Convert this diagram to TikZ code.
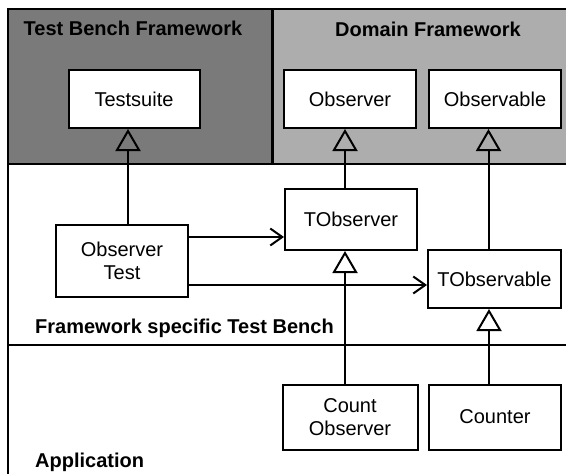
\documentclass[tikz,border=0pt]{standalone}
\usepackage{fontspec}
\setmainfont{Liberation Sans}
\usetikzlibrary{arrows.meta}
\begin{document}
\begin{tikzpicture}[x=1pt,y=-1pt,
  cls/.style={draw, line width=2pt, fill=white, font=\fontsize{20}{23}\selectfont, align=center, inner sep=0pt},
  lbl/.style={font=\bfseries\fontsize{20}{23}\selectfont, inner sep=0pt},
  inh/.style={line width=2pt, -{Triangle[open, width=25pt, length=22pt, line width=2pt]}},
  use/.style={line width=2pt, -{Straight Barb[length=12pt, width=17pt, line width=2pt]}},
  frame/.style={line width=2.2pt}]
\useasboundingbox (0,0) rectangle (566,474);
% shaded regions
\fill[black!52] (8,9) rectangle (272,164);
\fill[black!32] (272,9) rectangle (566,164);
\draw[frame] (8,474) -- (8,9) -- (566,9);
\draw[line width=3pt] (272,9) -- (272,164);
\draw[frame] (8,164) -- (566,164);
\draw[frame] (8,345) -- (566,345);
% region labels
\node[lbl] (tbf) at (133,28) {Test Bench Framework};
\node[lbl] (dfw) at (428,29) {Domain Framework};
\node[lbl, anchor=west] (fstb) at (35,328) {Framework specific Test Bench};
\node[lbl, anchor=west] (app) at (35,462) {Application};
% classes
\node[cls, minimum width=131pt, minimum height=58pt] (testsuite) at (134,99) {Testsuite};
\node[cls, minimum width=132pt, minimum height=58pt] (observer) at (350,99) {Observer};
\node[cls, minimum width=132pt, minimum height=58pt] (observable) at (495,99) {Observable};
\node[cls, minimum width=132pt, minimum height=61pt] (tobserver) at (351,219.5) {TObserver};
\node[cls, minimum width=133pt, minimum height=58pt] (tobservable) at (494.5,279) {TObservable};
\node[cls, minimum width=132pt, minimum height=72pt] (otest) at (122,261) {Observer\\Test};
\node[cls, minimum width=135pt, minimum height=65pt] (countobs) at (350,417) {Count\\Observer};
\node[cls, minimum width=132pt, minimum height=65pt] (counter) at (495,417) {Counter};
% connectors
\draw[inh] ([xshift=6pt]otest.north) -- ([xshift=6pt]otest.north |- testsuite.south);
\draw[inh] ([xshift=-6pt]tobserver.north) -- ([xshift=-6pt]tobserver.north |- observer.south);
\draw[inh] ([xshift=-6pt]tobservable.north) -- ([xshift=-6pt]tobservable.north |- observable.south);
\draw[inh] ([xshift=-5pt]countobs.north) -- ([xshift=-5pt]countobs.north |- tobserver.south);
\draw[inh] ([xshift=-6pt]counter.north) -- ([xshift=-6pt]counter.north |- tobservable.south);
\draw[use] ([yshift=24pt]otest.east) -- ([yshift=24pt]otest.east -| tobserver.west);
\draw[use] ([yshift=-24pt]otest.east) -- ([yshift=-24pt]otest.east -| tobservable.west);
\end{tikzpicture}
\end{document}
